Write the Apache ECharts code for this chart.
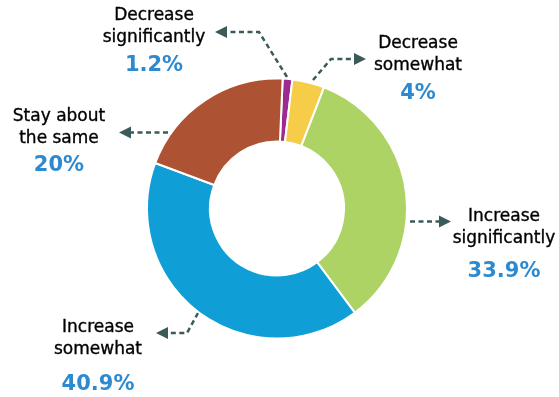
<!DOCTYPE html>
<html>
<head>
<meta charset="utf-8">
<script src="https://cdn.jsdelivr.net/npm/echarts@6/dist/echarts.min.js"></script>
<style>
  html, body { margin: 0; padding: 0; background: #ffffff; }
  #chart { width: 559px; height: 397px; }
</style>
</head>
<body>
<div id="chart"></div>
<script>
// Expected change in responses, share of respondents (%)
const categories = [
  'Decrease significantly',
  'Decrease somewhat',
  'Increase significantly',
  'Increase somewhat',
  'Stay about the same'
];
const shares = [1.2, 4, 33.9, 40.9, 20];
const labelLines = [
  ['Decrease', 'significantly'],
  ['Decrease', 'somewhat'],
  ['Increase', 'significantly'],
  ['Increase', 'somewhat'],
  ['Stay about', 'the same']
];
const sliceColors = ['#9c2a90', '#f6cd48', '#acd364', '#0f9fd6', '#ae5234'];

const FONT = '"DejaVu Sans", sans-serif';
const ARROW = '#3b5b5b';
const VALUE_BLUE = '#2d8ad0';

// Callout placement: text centre, line centres, value centre, leader path and arrow tip
const callouts = [
  { x: 154, y1: 16, y2: 38, yv: 66,  path: [[287, 77], [259, 32], [227, 32]], tip: [215, 32], dir: -1 },
  { x: 418, y1: 44, y2: 66, yv: 94,  path: [[313, 80], [331, 59], [354, 59]], tip: [366, 59], dir: 1 },
  { x: 504, y1: 217, y2: 239, yv: 272, path: [[410, 221.5], [439, 221.5]], tip: [451, 221.5], dir: 1 },
  { x: 98,  y1: 328, y2: 350, yv: 385, path: [[198, 313], [187, 333], [168, 333]], tip: [156, 333], dir: -1 },
  { x: 59,  y1: 117, y2: 139, yv: 166, path: [[168, 132.5], [131, 132.5]], tip: [119, 132.5], dir: -1 }
];

const graphics = [];
callouts.forEach(function (c, i) {
  graphics.push({
    type: 'polyline',
    shape: { points: c.path },
    style: { stroke: ARROW, lineWidth: 2.5, lineDash: [5, 3.5], fill: null },
    silent: true
  });
  const tx = c.tip[0], ty = c.tip[1], len = 12, half = 6;
  graphics.push({
    type: 'polygon',
    shape: { points: [[tx, ty], [tx - c.dir * len, ty - half], [tx - c.dir * len, ty + half]] },
    style: { fill: ARROW },
    silent: true
  });
  [c.y1, c.y2].forEach(function (yy, k) {
    graphics.push({
      type: 'text',
      x: c.x, y: yy,
      style: {
        text: labelLines[i][k],
        font: '17px ' + FONT,
        fill: '#000000',
        stroke: '#000000',
        lineWidth: 0.35,
        align: 'center',
        verticalAlign: 'middle'
      },
      silent: true
    });
  });
  graphics.push({
    type: 'text',
    x: c.x, y: c.yv,
    style: {
      text: shares[i] + '%',
      font: 'bold 21px ' + FONT,
      fill: VALUE_BLUE,
      align: 'center',
      verticalAlign: 'middle'
    },
    silent: true
  });
});

const chart = echarts.init(document.getElementById('chart'), null, { renderer: 'canvas' });
chart.setOption({
  animation: false,
  backgroundColor: '#ffffff',
  series: [{
    type: 'pie',
    center: [277, 208.5],
    radius: [67, 130],
    startAngle: 87.5,
    clockwise: true,
    label: { show: false },
    labelLine: { show: false },
    itemStyle: { borderColor: '#ffffff', borderWidth: 2 },
    emphasis: { disabled: true },
    data: categories.map(function (name, i) {
      return { name: name, value: shares[i], itemStyle: { color: sliceColors[i] } };
    })
  }],
  graphic: graphics
});
</script>
</body>
</html>
